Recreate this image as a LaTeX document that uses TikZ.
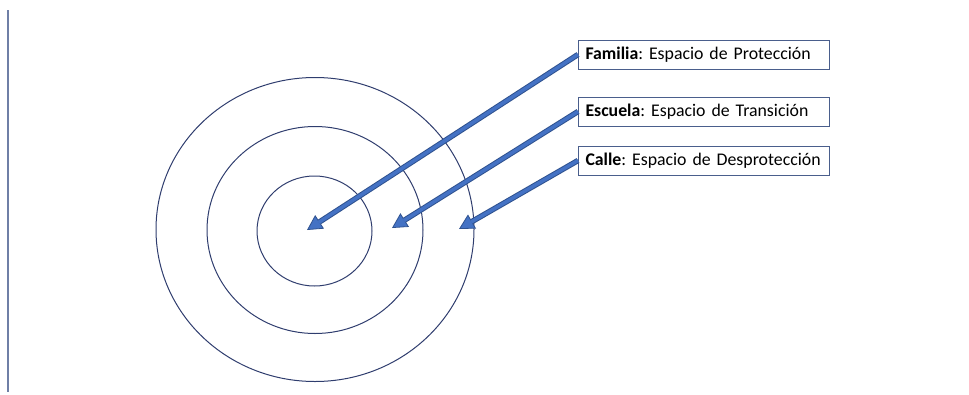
\documentclass[tikz,border=0pt]{standalone}
\usepackage{fontspec}
\setmainfont{Carlito}
\usepackage{tikz}
\usetikzlibrary{shapes.geometric,arrows.meta,positioning}
\definecolor{ringcol}{HTML}{2F3D6E}
\definecolor{boxcol}{HTML}{4A5E8C}
\definecolor{arrowedge}{HTML}{2F528F}
\definecolor{arrowfill}{HTML}{4472C4}
\definecolor{barcol}{HTML}{6F7FA6}
\frenchspacing

\begin{document}
\begin{tikzpicture}[
    % GLOBAL CFG
    x=1pt, y=-1pt,
    font=\fontsize{17.8}{21}\selectfont,
    % Styles
    ring/.style={% For the circles
        ellipse,
        draw=ringcol,
        line width=1pt,
        inner sep=0pt,
        outer sep=0pt,
        },
    labelbox/.style={% For the text boxes
        rectangle,
        draw=boxcol,
        line width=1pt,
        anchor=west,
        text width=237pt,
        inner xsep=7pt,
        inner ysep=0pt,
        minimum height=29pt,
        align=left,
        },
    blockarrow/.style={% Thick blue arrows
        draw=arrowedge,
        line width=5.5pt,
        -{Triangle[length=15pt, width=16pt, line width=0.8pt, fill=arrowfill]},
        postaction={draw=arrowfill, line width=3.5pt, shorten >=14pt, -},
        },
    ]

    \useasboundingbox (0,0) rectangle (969,394);

    % Left bar
    \coordinate (bartop) at (8,10);
    \coordinate (barbot) at (8,392);
    \draw [barcol, line width=1.2pt] (bartop) -- (barbot);

    % Draw the circles
    \node [ring, minimum width=318pt, minimum height=304pt] (outer) at (315,229.5) {};
    \node [ring, minimum width=216pt, minimum height=207pt] (middle) at (315,230) {};
    \node [ring, minimum width=115pt, minimum height=110pt] (inner) at (314.5,231) {};

    % Draw the boxes
    \node [labelbox] (familia) at (578,54.5) {\mbox{\textbf{Familia}: Espacio de Protección}};
    \node [labelbox] (escuela) at (578,111.5) {\mbox{\textbf{Escuela}: Espacio de Transición}};
    \node [labelbox] (calle) at (578,160.5) {\mbox{\textbf{Calle}: Espacio de Desprotección}};

    % Arrow tips
    \coordinate (tip1) at (307,230);
    \coordinate (tip2) at (392,228);
    \coordinate (tip3) at (459,229);

    % Arrows
    \draw [blockarrow] (familia.west) -- (tip1);
    \draw [blockarrow] (escuela.west) -- (tip2);
    \draw [blockarrow] (calle.west) -- (tip3);

\end{tikzpicture}
\end{document}
